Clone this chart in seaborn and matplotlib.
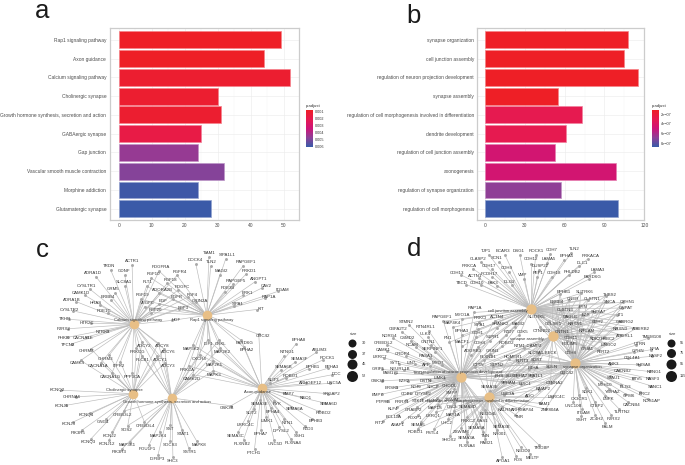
import numpy as np
import pandas as pd
import matplotlib
matplotlib.use("Agg")
import matplotlib.pyplot as plt
from matplotlib.cm import ScalarMappable
from matplotlib.colors import LinearSegmentedColormap, Normalize
import seaborn as sns

# bar panels
a_terms = ["Rap1 signaling pathway", "Axon guidance", "Calcium signaling pathway", "Cholinergic synapse",
           "Growth hormone synthesis, secretion and action", "GABAergic synapse", "Gap junction",
           "Vascular smooth muscle contraction", "Morphine addiction", "Glutamatergic synapse"]
a_counts = [49, 44, 52, 30, 31, 25, 24, 32, 24, 28]
a_padj = [0.0008, 0.0008, 0.0011, 0.0011, 0.0011, 0.0018, 0.0046, 0.0049, 0.0060, 0.0061]

b_terms = ["synapse organization", "cell junction assembly", "regulation of neuron projection development",
           "synapse assembly", "regulation of cell morphogenesis involved in differentiation",
           "dendrite development", "regulation of cell junction assembly", "axonogenesis",
           "regulation of synapse organization", "regulation of cell morphogenesis"]
b_counts = [108, 105, 115, 55, 73, 61, 53, 99, 57, 100]
b_padj = [1.1e-7, 1.1e-7, 1.1e-7, 1.1e-7, 3.0e-7, 3.0e-7, 4.6e-7, 4.6e-7, 6.8e-7, 8.75e-7]

size_labels_c = ["30", "37", "45", "52"]
size_labels_d = ["55", "75", "95", "115"]
size_radius = [4.0, 4.5, 5.0, 5.5]

# network panels: the layout, in picture pixels
c_hubs = [("Calcium signaling pathway", 133.7, 324.3, 138, 320),
          ("Rap1 signaling pathway", 206.7, 315.3, 212, 320),
          ("Axon guidance", 261.7, 388.3, 257, 392),
          ("Cholinergic synapse", 133.3, 393.7, 124, 390),
          ("Growth hormone synthesis, secretion and action", 171.7, 398, 167, 402)]

c_calcium = [("ACTR1", 132, 261), ("TRDN", 109, 266), ("GDNF", 124, 271), ("ADRA1D", 93, 273), ("SLC8A1", 124, 282),
             ("CYSLTR1", 86, 286), ("GRM5", 113, 289), ("CAMK1D", 81, 293), ("ERBB4", 108, 297), ("ADRA1B", 72, 300),
             ("HRAS", 96, 303), ("PDE1C", 104, 311), ("CYSLTR2", 69, 310), ("TRHR", 65, 319), ("HTR2C", 87, 323),
             ("P2RX2", 64, 329), ("NTRK3", 103, 332), ("PHKB", 64, 338), ("CACNA1E", 83, 338), ("TPCN2", 68, 345)]
c_calcium_chol = [("CHRM2", 87, 351), ("CHRM3", 106, 359), ("CAMK4", 77, 363), ("CACNA1A", 98, 366),
                  ("ITPR2", 119, 366), ("CACNA1G", 110, 377), ("PPP3CA", 132, 377)]
c_calcium_chol_gh = [("ADCY2", 144, 346), ("ADCY8", 162, 346), ("PRKCG", 137, 352), ("ADCY6", 168, 352),
                     ("PLCB1", 143, 360), ("ADCY1", 160, 360), ("ADCY3", 168, 366)]
c_calcium_rap1 = [("PDGFRA", 161, 267), ("FGF10", 153, 274), ("FGFR4", 180, 272), ("FLT1", 148, 282), ("FGF18", 170, 280),
                  ("PDGFC", 182, 287), ("ADORA2B", 162, 290), ("FGF19", 142, 295), ("FGF4", 192, 295), ("EGFR", 177, 297),
                  ("EGF", 163, 301), ("VEGFC", 147, 303), ("GRIN2A", 200, 301), ("FGF20", 155, 310), ("FGF3", 183, 308),
                  ("HGF", 176, 320)]
c_rap1 = [("TIAM1", 209, 253), ("SIPA1L1", 227, 255), ("DOCK4", 195, 260), ("TLN2", 211, 262), ("RAPGEF1", 246, 262),
          ("MAGI2", 221, 271), ("PRKD1", 249, 271), ("RAPGEF5", 236, 281), ("ANGPT1", 259, 279), ("PDE3B", 228, 288),
          ("CAV2", 266, 286), ("ITGAM", 282, 290), ("BRK1", 247, 293), ("RAP1A", 269, 297), ("SIPA1", 238, 304), ("KIT", 261, 309)]
c_rap1_axon = [("CDC42", 263, 336), ("PARD6G", 245, 343), ("EPHA2", 247, 350)]
c_rap1_axon_gh = [("MAP2K2", 222, 352), ("MAP3K2", 191, 349), ("IGF1", 208, 344), ("CRKL", 221, 344), ("CXCR4", 199, 359),
                  ("MAP2K1", 214, 365), ("PRKCA", 187, 370), ("MAPK3", 214, 375), ("CAMK2D", 192, 379)]
c_axon = [("EPHA8", 299, 340), ("ABLIM3", 320, 350), ("NTNG1", 287, 352), ("ROCK1", 327, 358), ("SEMA3F", 299, 359),
          ("SEMA6B", 284, 367), ("EPHB1", 313, 367), ("EPHA3", 332, 367), ("ROBO1", 290, 376), ("DCC", 336, 374),
          ("SLIT3", 274, 380), ("ARHGEF12", 310, 383), ("UNC5A", 334, 383), ("BMP7", 289, 394), ("SRGAP2", 332, 394),
          ("NEO1", 306, 398), ("SEMA6D", 329, 404), ("RYK", 277, 404), ("SEMA3E", 260, 404), ("SEMA6A", 295, 409),
          ("ROBO2", 323, 413), ("SLIT2", 252, 413), ("EPHA4", 273, 412), ("EPHB3", 316, 421), ("LIMK1", 267, 421),
          ("NTN1", 287, 423), ("LRRC4C", 246, 425), ("DPYSL2", 281, 431), ("FZD3", 308, 429), ("SEMA3C", 236, 436),
          ("EPHA7", 261, 434), ("SSH1", 299, 436), ("PLXNB2", 242, 444), ("UNC5D", 275, 444), ("PLXNA4", 293, 443),
          ("PTCH1", 254, 453)]
c_chol = [("KCNQ2", 57, 390), ("CHRNA6", 72, 397), ("KCNJ6", 62, 406), ("KCNQ4", 86, 415), ("KCNJ3", 69, 424),
          ("GNG4", 103, 422), ("PIK3R5", 78, 433), ("KCNQ3", 88, 442), ("KCNJ2", 110, 436), ("KCNJ12", 107, 444)]
c_chol_gh = [("CREB3L2", 122, 415), ("SOS2", 127, 430), ("CREB3L4", 146, 426)]
c_gh = [("MAP3K1", 127, 445), ("PIK3R3", 119, 452), ("MAP2K4", 158, 436), ("POU1F1", 147, 449), ("SST", 170, 429),
        ("SOCS3", 170, 445), ("IGFBP3", 157, 459), ("SHC3", 173, 461), ("STAT1", 183, 434), ("MAPK8", 199, 445),
        ("SSTR1", 190, 452)]
c_gh_axon = [("GSK3B", 227, 408)]

d_hubs = [("regulation of neuron projection development", 461, 377, 463, 372),
          ("regulation of cell morphogenesis involved in differentiation", 489, 397, 477, 401),
          ("cell junction assembly", 531, 309, 508, 311),
          ("synapse assembly", 553, 336, 527, 339),
          ("synapse organization", 575, 363, 582, 367)]

d_junction = [("TJP1", 486, 251), ("BCAR3", 503, 251), ("DSG1", 519, 251), ("ROCK1", 536, 251), ("CDH7", 552, 250),
              ("TLN2", 574, 249), ("PRKACA", 591, 256), ("EPHA5", 567, 256), ("CLASP2", 478, 259), ("SCN1", 497, 258),
              ("CDH12", 531, 259), ("LAMA5", 549, 259), ("DLC1", 582, 263), ("PRKCA", 469, 266), ("CDH17", 489, 266),
              ("CDH9", 507, 268), ("DUSP22", 540, 266), ("CDH13", 457, 273), ("ACTN1", 475, 276), ("PCDH17", 489, 274),
              ("PHLDB2", 572, 272), ("LAMA3", 598, 270), ("PARD6G", 593, 277), ("PEF1", 538, 273), ("CDH18", 554, 273),
              ("TBCD", 462, 283), ("CDH10", 477, 283), ("PAK3", 493, 283), ("DLG2", 509, 282), ("VMP", 523, 275)]
d_junction_org = [("ERBB4", 557, 302), ("EPHB1", 564, 292), ("SLITRK6", 585, 292), ("THBS2", 610, 295), ("OPHN1", 627, 302),
                  ("CNER", 573, 299), ("CLSTN1", 592, 299), ("SNCA", 610, 302), ("GNPAT", 626, 308), ("FYN", 583, 307),
                  ("CLSTN3", 565, 310), ("IT1", 621, 315), ("GABRG2", 625, 322), ("SLITRK5", 537, 317), ("DAGLB", 570, 317),
                  ("EZR", 586, 315), ("SHISA7", 598, 312), ("CDH2", 598, 322), ("ADGRB2", 641, 329), ("NRXN1", 575, 324),
                  ("CELSR1", 553, 324), ("ADGRL1", 625, 336), ("NRXN3", 620, 329), ("CTNND2", 542, 331), ("CNTN1", 562, 332),
                  ("NRCAM", 587, 331), ("CDH11", 571, 338), ("SDK2", 595, 339), ("HSBC2", 608, 339), ("LINGO2", 609, 345),
                  ("PDLIM5", 570, 344), ("GRIA1", 587, 349), ("CDH8", 571, 353), ("FLRT2", 603, 352)]
d_org = [("TMEM108", 652, 337), ("UTRN", 640, 344), ("NFIA", 655, 349), ("GPHN", 638, 351), ("NASF2", 656, 356),
         ("COL4A1", 632, 358), ("ANK3", 614, 364), ("SHISA8", 643, 365), ("CACNB2", 623, 371), ("NTNG1", 654, 372),
         ("STAU1", 614, 378), ("ETV5", 637, 379), ("NASF3", 653, 379), ("DLG3", 625, 387), ("SANC1", 655, 387),
         ("MYH10", 605, 385), ("ERC2", 644, 394), ("YWHAZ", 613, 392), ("GPM6", 629, 396), ("NOS1AP", 652, 401),
         ("SDK1", 588, 392), ("LNPK", 608, 399), ("CX3CR1", 579, 399), ("CACNB4", 632, 405), ("UNC10B", 573, 406),
         ("CTBP2", 597, 406), ("TLRTN2", 622, 412), ("ITGAM", 583, 413), ("SSHT", 582, 420), ("ZC4H2", 597, 419),
         ("P2RX2", 614, 419), ("PALM", 607, 427)]
d_neuron_junction = [("RAP1A", 475, 308), ("RAPGEF1", 442, 317), ("MYO1A", 462, 315), ("PRKCI", 480, 318), ("ACTN4", 497, 317),
                     ("MAP4K4", 452, 323), ("SIPA1", 480, 325), ("SHANK2", 500, 324), ("MAGI2", 518, 324), ("EPHA3", 462, 331),
                     ("FZD7", 509, 332), ("CDK5", 523, 332), ("CDH1", 478, 333), ("S1PR1", 493, 337), ("FN1", 448, 338),
                     ("MACF1", 462, 342), ("CDH4", 480, 343), ("ROBO2", 506, 343), ("ADGRB3", 473, 351), ("GRIN1", 493, 351)]
d_center = [("NTM1-CAMP2", 528, 346), ("PLXNB1", 488, 357), ("SLC8A1-BECK", 543, 353), ("CTTN", 479, 365), ("STRN2", 497, 365),
            ("HOMER1", 513, 357), ("FLRT3", 522, 361), ("SORT", 537, 360), ("SOX", 510, 376), ("RHS", 499, 376),
            ("EPHA7", 521, 376), ("P4HA", 533, 368), ("SPA1L1", 536, 376), ("SOLN", 552, 367), ("CDC42", 567, 373),
            ("SPHAM", 508, 383), ("CTNNA2", 555, 383), ("DISC1", 525, 384)]
d_morph_org = [("SEMA3E", 490, 387), ("BAIAP2", 543, 389), ("UBE3A", 508, 394), ("LRRC4C", 557, 397), ("AGO", 530, 396),
               ("TIAM1", 544, 404), ("ARHGAP44", 523, 410), ("ZNF804A", 550, 410), ("KALRN", 505, 410), ("TNR", 519, 417)]
d_neuron = [("STMN2", 406, 322), ("RTN4RL1", 426, 327), ("CBFA2T2", 398, 329), ("ULK4", 425, 334), ("NDRG4", 389, 336),
            ("CSMD2", 407, 338), ("CREB3L2", 383, 343), ("CNTN1", 428, 342), ("NCAM", 412, 345), ("CAMK1", 383, 350),
            ("SERPINF1", 432, 349), ("LRRC7", 380, 357), ("CRDR4", 402, 354), ("RASA1", 426, 356), ("SYT1", 395, 363),
            ("LIN7", 411, 363), ("APP", 426, 365), ("MYO7", 438, 363), ("GRIP1", 378, 369), ("NEURL1B", 400, 369),
            ("FAM171", 391, 373), ("TIGD", 418, 373), ("GSK3B", 378, 381), ("EZH2", 404, 381), ("DSTN", 426, 381),
            ("LIMK1", 440, 378), ("BRSK1", 392, 388), ("NGF", 415, 387), ("SDC2", 433, 387), ("CHODL", 450, 386),
            ("BMP7", 378, 395), ("COBL", 407, 394), ("DPYSL2", 423, 394), ("SMPP", 452, 393), ("PTPRG", 383, 402),
            ("PRRX1", 402, 402), ("STK11", 418, 401), ("KLF4", 393, 409), ("CRABP2", 413, 410), ("BCL11A", 394, 417),
            ("FOXP1", 415, 418), ("ASAP1", 398, 425), ("SEMA6", 418, 425), ("RIT2", 379, 423)]
d_neuron_morph = [("RUFY3", 434, 401), ("ZSWIM5", 453, 400), ("MAP1S", 435, 408), ("DSCL", 453, 407), ("SEMA3D", 468, 407),
                  ("LRRQ1", 433, 416), ("MAP1A", 453, 415), ("NEDD4L", 488, 414), ("UHC2", 447, 423), ("PRKCZ", 468, 421),
                  ("GAS1", 483, 421), ("ROBO1", 415, 432), ("PSTL4", 432, 433), ("ZSWIM6", 461, 432), ("SEMA5A", 477, 428),
                  ("SEMA3B", 502, 427), ("NR001", 500, 434), ("SHOX2", 449, 440), ("SEMA3A", 467, 438), ("TNN", 485, 436),
                  ("RAB21", 487, 443), ("PLXNA4", 467, 446)]
d_morph = [("APOA1", 503, 461), ("FOS", 518, 460), ("NEDD9", 523, 451), ("TRIOBP", 542, 448), ("MELTF", 533, 458)]

c_groups = [(c_calcium, [0]), (c_calcium_chol, [0, 3]), (c_calcium_chol_gh, [0, 3, 4]), (c_calcium_rap1, [0, 1]),
            (c_rap1, [1]), (c_rap1_axon, [1, 2]), (c_rap1_axon_gh, [1, 2, 4]), (c_axon, [2]), (c_chol, [3]),
            (c_chol_gh, [3, 4]), (c_gh, [4]), (c_gh_axon, [2, 4])]
d_groups = [(d_junction, [2]), (d_junction_org, [2, 3, 4]), (d_org, [4]), (d_neuron_junction, [0, 2]),
            (d_center, [0, 1, 3, 4]), (d_morph_org, [1, 4]), (d_neuron, [0]), (d_neuron_morph, [0, 1]), (d_morph, [1])]

W, H = 685, 465
sns.set_theme(style="whitegrid")
plt.rcParams["font.family"] = ["Liberation Sans", "DejaVu Sans"]

cmap = LinearSegmentedColormap.from_list(
    "padj", ["#ee1f26", "#e61a50", "#ce1478", "#8e4097", "#3a5aa8"])


def px_axes(fig, x0, y0, x1, y1):
    return fig.add_axes([x0 / W, 1 - y1 / H, (x1 - x0) / W, (y1 - y0) / H])


def bar_panel(fig, box, terms, counts, padj, norm, xlim, xticks, minor):
    ax = px_axes(fig, *box)
    df = pd.DataFrame({"term": terms, "count": counts})
    colors = [cmap(norm(v)) for v in padj]
    sns.barplot(data=df, x="count", y="term", hue="term", palette=colors, legend=False,
                width=0.9, saturation=1, ax=ax)
    for patch, c in zip(ax.patches, colors):
        patch.set_edgecolor(tuple(0.55 * np.array(c[:3]) + 0.45))
        patch.set_linewidth(0.5)
    ax.set_xlim(*xlim)
    ax.set_ylim(9.6, -0.6)
    ax.set_xticks(xticks)
    ax.set_xticks(minor, minor=True)
    ax.set_xlabel("")
    ax.set_ylabel("")
    ax.set_axisbelow(True)
    ax.grid(True, which="major", color="#ebebeb", lw=0.4)
    ax.grid(True, which="minor", axis="x", color="#f3f3f3", lw=0.3)
    ax.tick_params(axis="both", which="major", labelsize=3.55, labelcolor="#4d4d4d", color="#999999",
                   length=1.6, width=0.4, pad=0.8)
    ax.tick_params(axis="x", which="minor", length=0)
    for s in ax.spines.values():
        s.set_visible(True)
        s.set_color("#cccccc")
        s.set_linewidth(0.9)
    return ax


def colorbar(fig, box, norm, ticks, labels, title_xy, title):
    cax = px_axes(fig, *box)
    cb = fig.colorbar(ScalarMappable(norm=norm, cmap=cmap), cax=cax)
    cb.outline.set_visible(False)
    cb.ax.invert_yaxis()
    cb.set_ticks(ticks)
    cb.set_ticklabels(labels)
    cb.ax.tick_params(labelsize=2.7, labelcolor="#333333", length=0, pad=1.2)
    fig.text(title_xy[0] / W, 1 - title_xy[1] / H, title, fontsize=3.1, color="#333333", va="center")


def network(ax, hubs, groups, hub_size):
    rows = []
    for genes, links in groups:
        hx, hy = hubs[links[0]][1], hubs[links[0]][2]
        for name, lx, ly in genes:
            # the dot sits just off the label, on the side of its first hub
            dx, dy = hx - lx, hy - ly
            dist = max(np.hypot(dx, dy), 1)
            nx, ny = lx + 4.5 * dx / dist, ly + 4.5 * dy / dist
            rows.append({"name": name, "lx": lx, "ly": ly, "x": nx, "y": ny})
            for h in links:
                ax.plot([hubs[h][1], nx], [hubs[h][2], ny], color="#b9b9b9", lw=0.45, zorder=1)
    genes_df = pd.DataFrame(rows)
    hubs_df = pd.DataFrame(hubs, columns=["name", "x", "y", "lx", "ly"])
    sns.scatterplot(data=genes_df, x="x", y="y", color="#a9a9a9", s=4.5, linewidth=0, zorder=2, ax=ax, legend=False)
    sns.scatterplot(data=hubs_df, x="x", y="y", color="#e8bf86", s=hub_size, linewidth=0, zorder=3, ax=ax, legend=False)
    for r in genes_df.itertuples():
        ax.text(r.lx, r.ly, r.name, fontsize=3.2, color="#333333", ha="center", va="center", zorder=4)
    for r in hubs_df.itertuples():
        ax.text(r.lx, r.ly, r.name, fontsize=3.0, color="#333333", ha="center", va="center", zorder=4)


def size_legend(ax, x, ys, labels, label_x):
    df = pd.DataFrame({"x": [x] * len(ys), "y": ys})
    areas = [(2 * r * 0.72) ** 2 for r in size_radius]
    for row, s in zip(df.itertuples(), areas):
        sns.scatterplot(x=[row.x], y=[row.y], color="#1a1a1a", s=s, linewidth=0, ax=ax, legend=False)
    for y, lab in zip(ys, labels):
        ax.text(label_x, y, lab, fontsize=2.8, color="#333333", va="center")
    ax.text(x - 2, 334, "size", fontsize=3.0, color="#333333", va="center")


fig = plt.figure(figsize=(W / 100, H / 100), dpi=100)

norm_a = Normalize(0.00078, 0.0061)
bar_panel(fig, (109.5, 28.5, 299, 220), a_terms, a_counts, a_padj, norm_a, (-2.8, 54.6),
          [0, 10, 20, 30, 40, 50], [5, 15, 25, 35, 45])
colorbar(fig, (306, 110, 313, 146.7), norm_a, [0.001, 0.002, 0.003, 0.004, 0.005, 0.006],
         ["0.001", "0.002", "0.003", "0.004", "0.005", "0.006"], (306, 105.7), "p.adjust")

norm_b = Normalize(1.1e-7, 8.75e-7)
bar_panel(fig, (477.3, 28.5, 644.3, 220), b_terms, b_counts, b_padj, norm_b, (-5.8, 120),
          [0, 30, 60, 90, 120], [15, 45, 75, 105])
colorbar(fig, (652, 110, 659, 146.7), norm_b, [2e-7, 4e-7, 6e-7, 8e-7],
         ["2e\u221207", "4e\u221207", "6e\u221207", "8e\u221207"], (652, 105.7), "p.adjust")

net = fig.add_axes([0, 0, 1, 1])
net.set_xlim(0, W)
net.set_ylim(H, 0)
net.patch.set_alpha(0)
network(net, c_hubs, c_groups, 48)
network(net, d_hubs, d_groups, 55)
size_legend(net, 351.7, [343, 354, 364, 376], size_labels_c, 362)
size_legend(net, 671, [343, 353, 364, 376], size_labels_d, 680)
net.axis("off")

letters = [("a", 42, 18.5), ("b", 414, 23), ("c", 42, 257), ("d", 414, 256)]
for letter, x, y in letters:
    net.text(x, y, letter, fontsize=18.5, color="#1a1a1a", ha="center", va="baseline")

fig.savefig("out.png", dpi=100)
